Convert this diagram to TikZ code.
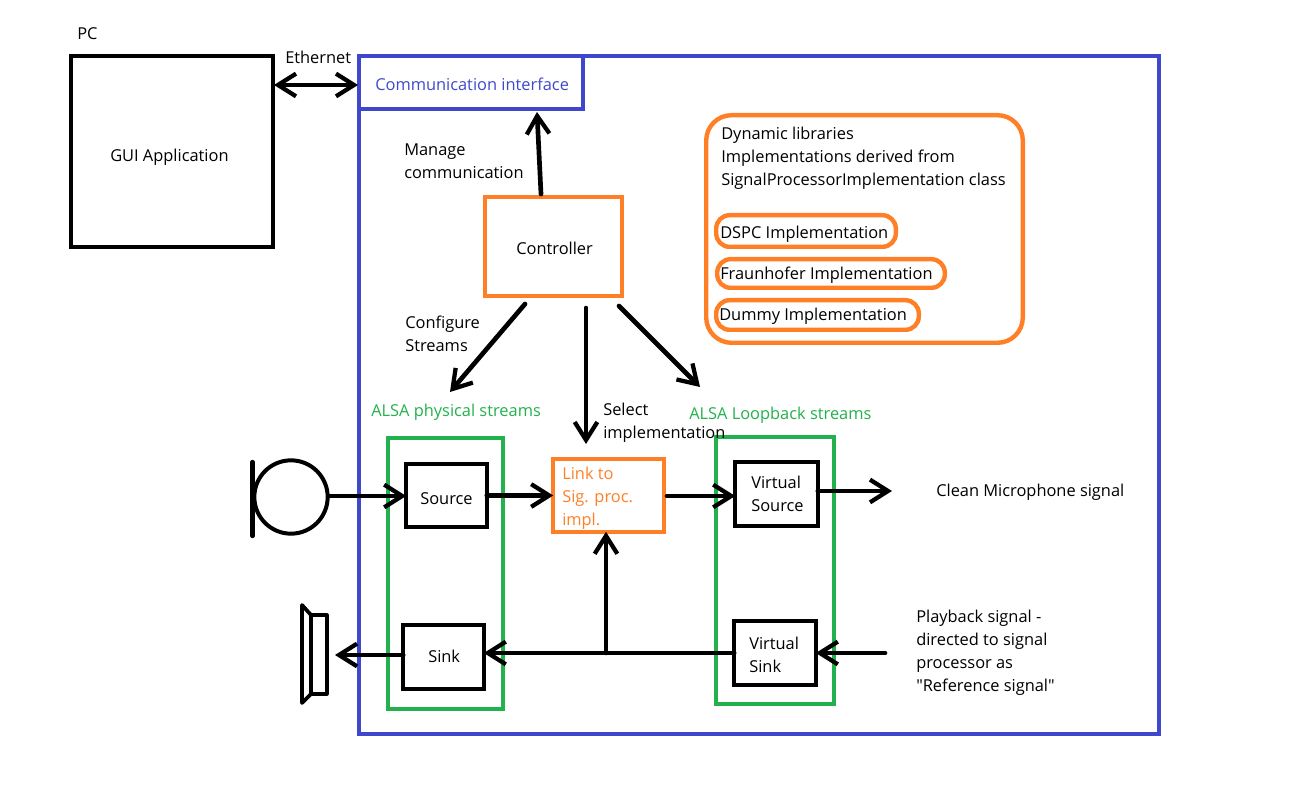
\documentclass[tikz,border=0pt]{standalone}
\usepackage{fontspec}
\setmainfont{Open Sans}[Ligatures=TeXOff]
\usetikzlibrary{arrows.meta}
\definecolor{bl}{HTML}{3F48CC}
\definecolor{orn}{HTML}{FF7F27}
\definecolor{grn}{HTML}{22B14C}
\tikzset{
  x=0.75pt,y=-0.75pt,
  lbl/.style={anchor=west,inner sep=0pt,align=left,font=\fontsize{12.3pt}{17.25pt}\selectfont,text=black},
  boxk/.style={draw=black,line width=3.3pt,inner sep=0pt,outer sep=0pt,fill=none},
  boxo/.style={boxk,draw=orn},
  boxg/.style={boxk,draw=grn},
  boxb/.style={boxk,draw=bl},
  barb/.tip={Straight Barb[length=13.5pt,width=17pt,line width=3.2pt]},
  conn/.style={draw=black,line width=3.5pt,line cap=round,-barb},
  plainline/.style={draw=black,line width=3.2pt,line cap=round,line join=round},
}
\newcommand{\bx}[7][]{\node[#2,#1,minimum width=#5*0.75pt-#3*0.75pt-1.8pt,minimum height=#6*0.75pt-#4*0.75pt-1.8pt] (#7) at ({(#3+#5)/2},{(#4+#6)/2}) {};}
\begin{document}
\begin{tikzpicture}
\useasboundingbox (0,0) rectangle (1301,812);
% containers
\bx{boxb}{358}{55}{1160}{735}{outer}
\bx{boxb}{358}{55}{584}{110}{comm}
\bx{boxk}{70}{55}{274}{248}{pc}
\bx{boxo}{484}{196}{623}{297}{ctrl}
\bx[rounded corners=19pt]{boxo}{705}{114}{1024}{344}{libs}
\bx[rounded corners=10pt]{boxo}{715}{214}{897}{248}{dspc}
\bx[rounded corners=10pt]{boxo}{716}{258}{946}{289}{fraun}
\bx[rounded corners=10pt]{boxo}{715}{299}{920}{331}{dummy}
\bx{boxg}{387}{437}{504}{710}{phys}
\bx{boxg}{715}{436}{835}{705}{loop}
\bx{boxk}{405}{463}{488}{528}{source}
\bx{boxk}{402}{624}{485}{690}{sink}
\bx{boxo}{552}{458}{665}{533}{link}
\bx{boxk}{734}{461}{819}{527}{vsource}
\bx{boxk}{733}{620}{817}{686}{vsink}
% microphone
\node[draw=black,line width=3pt,circle,minimum size=55pt,inner sep=0pt,outer sep=0pt] (mic) at (291,497) {};
\coordinate (micA) at (252.5,462);
\coordinate (micB) at (252.5,536);
\draw[plainline] (micA) -- (micB);
% speaker
\coordinate (spkA) at (302,605);
\coordinate (spkB) at (302,703);
\coordinate (spkC) at (311,615);
\coordinate (spkD) at (311,694);
\coordinate (spkE) at (327,615);
\coordinate (spkF) at (327,694);
\draw[plainline,line width=2.8pt] (spkA) -- (spkB) -- (spkD) -- (spkC) -- cycle;
\draw[plainline,line width=2.4pt] (spkC) -- (spkE) -- (spkF) -- (spkD);
% free ends
\coordinate (micOut) at (329,496);
\coordinate (spkIn) at (335,655);
\coordinate (cleanOut) at (892,491);
\coordinate (playIn) at (885,653);
\coordinate (junction) at (606,653);
\coordinate (physIn) at (450,392);
\coordinate (loopIn) at (700,387);
\coordinate (linkIn) at (586,444);
\coordinate (ctrlA) at (525,304);
\coordinate (ctrlB) at (586,308);
\coordinate (ctrlC) at (619,306);
\coordinate (ctrlD) at (541,194);
\coordinate (commIn) at (537,112);
\coordinate (ethL) at (274,85);
\coordinate (ethR) at (358,85);
\coordinate (linkOut) at (667,496);
% connectors
\draw[conn,barb-barb] (ethL) -- (ethR);
\draw[conn] (ctrlD) -- (commIn);
\draw[conn] (ctrlA) -- (physIn);
\draw[conn] (ctrlB) -- (linkIn);
\draw[conn] (ctrlC) -- (loopIn);
\draw[conn] (micOut) -- (micOut -| source.west);
\draw[conn] (source.east) -- (source.east -| link.west);
\draw[conn] (linkOut) -- (linkOut -| vsource.west);
\draw[conn] (cleanOut -| vsource.east) -- (cleanOut);
\draw[conn] (playIn) -- (playIn -| vsink.east);
\draw[conn] (playIn -| vsink.west) -- (playIn -| sink.east);
\draw[conn] (spkIn -| sink.west) -- (spkIn);
\draw[conn] (junction) -- (junction |- link.south);
% labels
\node[lbl] (tPC) at (77,34) {PC};
\node[lbl] (tEth) at (285,57) {Ethernet};
\node[lbl,text=bl] (tComm) at (375,84) {Communication interface};
\node[lbl] (tGui) at (110,157) {GUI Application};
\node[lbl] (tMan) at (404,161.5) {Manage\\communication};
\node[lbl] (tCtrl) at (516,248) {Controller};
\node[lbl] (tCfg) at (405,333.5) {Configure\\Streams};
\node[lbl] (tDyn) at (721,158) {Dynamic libraries\\Implementations derived from\\SignalProcessorImplementation class};
\node[lbl] (tDspc) at (720,234) {DSPC Implementation};
\node[lbl] (tFraun) at (720,275) {Fraunhofer Implementation};
\node[lbl] (tDummy) at (719,316) {Dummy Implementation};
\node[lbl,text=grn] (tPhys) at (371,412) {ALSA physical streams};
\node[lbl,text=grn] (tLoop) at (689,415) {ALSA Loopback streams};
\node[lbl] (tSel) at (603,422.5) {Select\\implementation};
\node[lbl] (tSrc) at (420,499) {Source};
\node[lbl] (tSink) at (428,656) {Sink};
\node[lbl,text=orn] (tLink) at (562,498) {Link to\\Sig. proc.\\impl.};
\node[lbl] (tVS) at (751,493.5) {Virtual\\Source};
\node[lbl] (tVK) at (749,654.5) {Virtual\\Sink};
\node[lbl] (tClean) at (936,492) {Clean Microphone signal};
\node[lbl] (tPlay) at (916,652.5) {Playback signal -\\directed to signal\\processor as\\"Reference signal"};
\end{tikzpicture}
\end{document}
